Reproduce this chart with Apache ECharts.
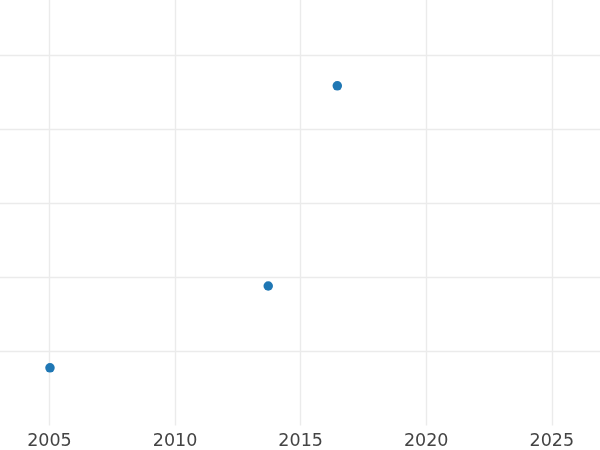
<!DOCTYPE html>
<html>
<head>
<meta charset="utf-8">
<script src="https://cdn.jsdelivr.net/npm/echarts@6/dist/echarts.min.js"></script>
<style>html,body{margin:0;padding:0;background:#fff}#c{width:600px;height:450px}</style>
</head>
<body>
<div id="c"></div>
<script>
const years = [2005.02, 2013.71, 2016.46];
const values = [0.78, 1.885, 4.59];
const xTicks = [2005, 2010, 2015, 2020, 2025];

const chart = echarts.init(document.getElementById('c'), null, {renderer: 'canvas'});
const pts = years.map((x, i) => [x, values[i]]);
chart.setOption({
  animation: false,
  backgroundColor: '#ffffff',
  grid: {left: 0, right: 0, top: 0, bottom: 23.5, containLabel: false},
  xAxis: {
    type: 'value', min: 2003.03, max: 2026.92,
    splitNumber: 5,
    axisLine: {show: false}, axisTick: {show: false},
    axisLabel: {
      color: '#444444', fontSize: 17.5, fontFamily: 'DejaVu Sans', margin: 6.5,
      showMinLabel: false, showMaxLabel: false,
      formatter: v => xTicks.includes(Math.round(v * 1000) / 1000) ? String(v) : ''
    },
    splitLine: {show: true, showMinLine: false, showMaxLine: false, lineStyle: {color: '#ebebeb', width: 1.4}}
  },
  yAxis: {
    type: 'value', min: 0, max: 5.75, interval: 1,
    axisLine: {show: false}, axisTick: {show: false}, axisLabel: {show: false},
    splitLine: {show: true, showMinLine: false, showMaxLine: false, lineStyle: {color: '#ebebeb', width: 1.4}}
  },
  series: [{
    type: 'scatter', data: pts, symbol: 'circle', symbolSize: 9.5,
    itemStyle: {color: '#1f77b4', opacity: 1}
  }]
});
</script>
</body>
</html>
